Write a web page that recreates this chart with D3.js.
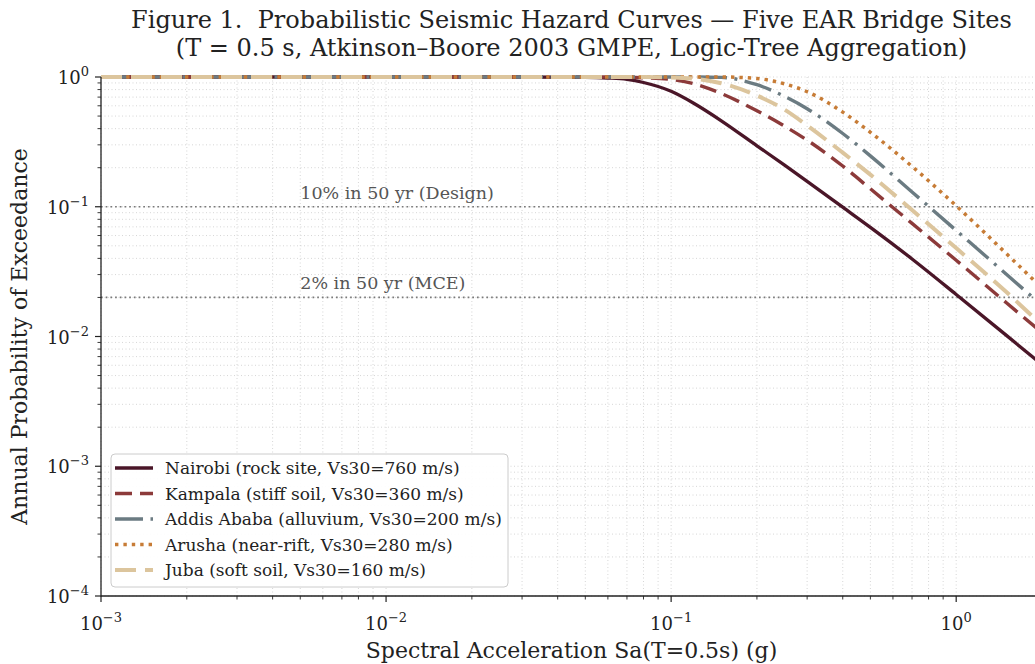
<!DOCTYPE html>
<html lang="en">
<head>
<meta charset="utf-8"/>
<title>Seismic Hazard Curves</title>
<style>
  body { margin: 0; background: #fff; }
  svg text { font-family: "DejaVu Serif", serif; fill: #222; white-space: pre; }
  .grid line { stroke: #cccccc; stroke-width: 0.8; stroke-dasharray: 1,2.5; }
</style>
</head>
<body>
<div id="chart"></div>
<script src="https://cdn.jsdelivr.net/npm/d3@7/dist/d3.min.js"></script>
<script>
// spectral acceleration samples (g)
var saValues = [0.001, 0.01, 0.03, 0.05, 0.06, 0.07, 0.08, 0.1, 0.12, 0.15, 0.2, 0.25, 0.3, 0.4, 0.5, 0.7, 1.0, 1.5, 2.0];

// annual probability of exceedance
var nairobi  = [1, 1, 1, 0.995, 0.982, 0.958, 0.907, 0.776, 0.628, 0.460, 0.295, 0.209, 0.157, 0.0992, 0.0694, 0.0396, 0.0211, 0.0102, 0.00606];
var kampala  = [1, 1, 1, 1, 1, 0.996, 0.986, 0.956, 0.888, 0.746, 0.549, 0.418, 0.326, 0.206, 0.1375, 0.0744, 0.0387, 0.0182, 0.0107];
var addis    = [1, 1, 1, 1, 1, 1, 1, 1, 1, 0.993, 0.872, 0.709, 0.570, 0.367, 0.2466, 0.130, 0.0657, 0.0302, 0.0173];
var arusha   = [1, 1, 1, 1, 1, 1, 1, 1, 1, 1, 0.974, 0.885, 0.770, 0.536, 0.375, 0.2047, 0.1017, 0.0435, 0.0236];
var juba     = [1, 1, 1, 1, 1, 1, 1, 0.993, 0.972, 0.896, 0.719, 0.560, 0.423, 0.261, 0.1767, 0.0944, 0.048, 0.022, 0.0122];

var siteNames = [
  "Nairobi (rock site, Vs30=760 m/s)",
  "Kampala (stiff soil, Vs30=360 m/s)",
  "Addis Ababa (alluvium, Vs30=200 m/s)",
  "Arusha (near-rift, Vs30=280 m/s)",
  "Juba (soft soil, Vs30=160 m/s)"
];
var siteValues = [nairobi, kampala, addis, arusha, juba];
var siteColors = ["#4a1628", "#8c3a3a", "#6b7b82", "#c77c36", "#dcc59d"];
var siteDashes = ["none", "17,8", "28,7.5,3,7.5", "3.4,5", "21,9"];
var siteWidths = [3.3, 3.4, 3.4, 3.5, 4];

var refLevels = [0.1, 0.02];
var refLabels = ["10% in 50 yr (Design)", "2% in 50 yr (MCE)"];

var xTicks = [1e-3, 1e-2, 1e-1, 1e0];
var xTickExp = ["\u22123", "\u22122", "\u22121", "0"];
var yTicks = [1e0, 1e-1, 1e-2, 1e-3, 1e-4];
var yTickExp = ["0", "\u22121", "\u22122", "\u22123", "\u22124"];

var W = 1035, H = 664;
var pL = 101, pT = 77, pR = 1042, pB = 596;

var x = d3.scaleLog().domain([1e-3, 2]).range([pL, pR]);
var y = d3.scaleLog().domain([1e-4, 1]).range([pB, pT]);

var svg = d3.select("#chart").append("svg")
  .attr("width", W).attr("height", H);

svg.append("defs").append("clipPath").attr("id", "clip")
  .append("rect").attr("x", pL).attr("y", pT - 6)
  .attr("width", pR - pL).attr("height", pB - pT + 6);

// minor + major grid
var xGrid = [], yGrid = [];
for (var e = -3; e <= 0; e++) for (var m = 1; m <= 9; m++) {
  var v = m * Math.pow(10, e);
  if (v <= 2) xGrid.push(v);
}
for (var e2 = -4; e2 <= -1; e2++) for (var m2 = 1; m2 <= 9; m2++) yGrid.push(m2 * Math.pow(10, e2));
yGrid.push(1);

var grid = svg.append("g").attr("class", "grid");
grid.selectAll(".gx").data(xGrid).enter().append("line")
  .attr("x1", d => x(d)).attr("x2", d => x(d))
  .attr("y1", pT).attr("y2", pB);
grid.selectAll(".gy").data(yGrid).enter().append("line")
  .attr("x1", pL).attr("x2", pR)
  .attr("y1", d => y(d)).attr("y2", d => y(d));

// reference lines
svg.selectAll(".ref").data(refLevels).enter().append("line")
  .attr("x1", pL).attr("x2", pR)
  .attr("y1", d => y(d)).attr("y2", d => y(d))
  .style("stroke", "#7a7a7a").style("stroke-width", 1.7)
  .style("stroke-dasharray", "1.7,3");
svg.selectAll(".reflabel").data(refLevels).enter().append("text")
  .attr("x", x(0.005)).attr("y", d => y(d) - 8)
  .style("font-size", "17.5px").style("fill", "#555")
  .text((d, i) => refLabels[i]);

// hazard curves
var line = d3.line()
  .x(d => x(d[0])).y(d => y(d[1]))
  .curve(d3.curveMonotoneX);

var curves = svg.append("g").attr("clip-path", "url(#clip)");
siteValues.forEach(function (vals, i) {
  curves.append("path")
    .datum(saValues.map((s, j) => [s, vals[j]]))
    .attr("d", line)
    .style("fill", "none")
    .style("stroke", siteColors[i])
    .style("stroke-width", siteWidths[i])
    .style("stroke-dasharray", siteDashes[i]);
});

// axes
var ax = svg.append("g").style("stroke", "#222");
ax.append("line").attr("x1", pL).attr("x2", pL).attr("y1", pT).attr("y2", pB + 0.5)
  .style("stroke-width", 1.3);
ax.append("line").attr("x1", pL).attr("x2", W).attr("y1", pB).attr("y2", pB)
  .style("stroke-width", 1.3);

var xMinor = xGrid.filter(v => xTicks.indexOf(v) < 0);
var yMinor = yGrid.filter(v => yTicks.indexOf(v) < 0);
ax.selectAll(".xM").data(xTicks).enter().append("line")
  .attr("x1", d => x(d)).attr("x2", d => x(d)).attr("y1", pB).attr("y2", pB + 6)
  .style("stroke-width", 1.2);
ax.selectAll(".xm").data(xMinor).enter().append("line")
  .attr("x1", d => x(d)).attr("x2", d => x(d)).attr("y1", pB).attr("y2", pB + 3.5)
  .style("stroke-width", 0.9);
ax.selectAll(".yM").data(yTicks).enter().append("line")
  .attr("x1", pL - 6).attr("x2", pL).attr("y1", d => y(d)).attr("y2", d => y(d))
  .style("stroke-width", 1.2);
ax.selectAll(".ym").data(yMinor).enter().append("line")
  .attr("x1", pL - 3.5).attr("x2", pL).attr("y1", d => y(d)).attr("y2", d => y(d))
  .style("stroke-width", 0.9);

// tick labels
xTicks.forEach(function (t, i) {
  var tx = svg.append("text").attr("x", x(t)).attr("y", 630)
    .attr("text-anchor", "middle").style("font-size", "18px");
  tx.append("tspan").text("10");
  tx.append("tspan").attr("dy", -8).style("font-size", "13px").text(xTickExp[i]);
});
yTicks.forEach(function (t, i) {
  var ty = svg.append("text").attr("x", 89).attr("y", y(t) + 7)
    .attr("text-anchor", "end").style("font-size", "18px");
  ty.append("tspan").text("10");
  ty.append("tspan").attr("dy", -8).style("font-size", "13px").text(yTickExp[i]);
});

// axis titles
svg.append("text").attr("x", (pL + pR) / 2).attr("y", 658)
  .attr("text-anchor", "middle").style("font-size", "22px")
  .text("Spectral Acceleration Sa(T=0.5s) (g)");
svg.append("text")
  .attr("transform", "translate(27," + ((pT + pB) / 2) + ") rotate(-90)")
  .attr("text-anchor", "middle").style("font-size", "22px")
  .text("Annual Probability of Exceedance");

// title
svg.append("text").attr("x", (pL + pR) / 2).attr("y", 28)
  .attr("text-anchor", "middle").style("font-size", "24px")
  .text("Figure 1.  Probabilistic Seismic Hazard Curves \u2014 Five EAR Bridge Sites");
svg.append("text").attr("x", (pL + pR) / 2).attr("y", 56)
  .attr("text-anchor", "middle").style("font-size", "24px")
  .text("(T = 0.5 s, Atkinson\u2013Boore 2003 GMPE, Logic-Tree Aggregation)");

// legend
var lg = svg.append("g");
lg.append("rect").attr("x", 111).attr("y", 454).attr("width", 397).attr("height", 133)
  .attr("rx", 4).style("fill", "#fff").style("fill-opacity", 0.92)
  .style("stroke", "#cccccc").style("stroke-width", 1);
siteNames.forEach(function (name, i) {
  var ly = 468 + i * 25.5;
  lg.append("line").attr("x1", 115).attr("x2", 153).attr("y1", ly).attr("y2", ly)
    .style("stroke", siteColors[i]).style("stroke-width", siteWidths[i])
    .style("stroke-dasharray", siteDashes[i]);
  lg.append("text").attr("x", 165).attr("y", ly + 6)
    .style("font-size", "17px").text(name);
});
</script>
</body>
</html>
